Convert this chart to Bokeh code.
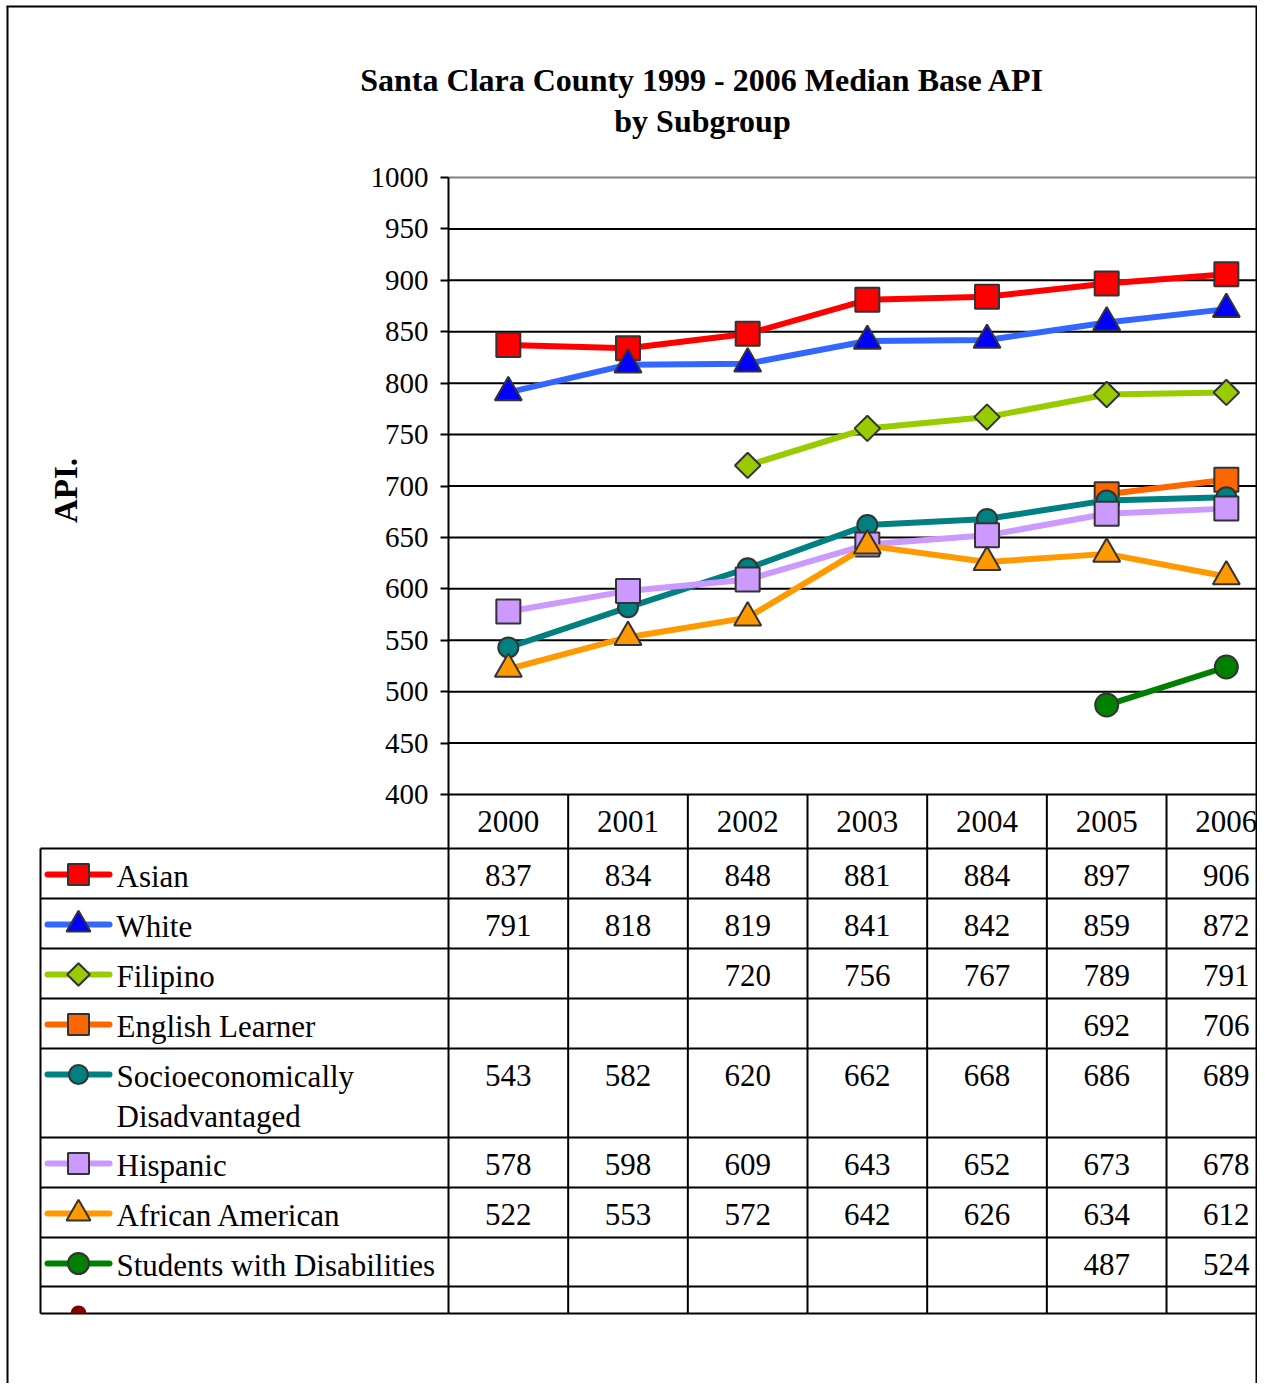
import math
from bokeh.plotting import figure
from bokeh.models import Range1d, LinearAxis, FixedTicker, ColumnDataSource
from bokeh.embed import file_html
from bokeh.resources import INLINE
from bokeh.core.properties import value

# ---------------- data ----------------
years = ["2000", "2001", "2002", "2003", "2004", "2005", "2006"]
asian = [837, 834, 848, 881, 884, 897, 906]
white = [791, 818, 819, 841, 842, 859, 872]
filipino = [None, None, 720, 756, 767, 789, 791]
english_learner = [None, None, None, None, None, 692, 706]
socio_disadv = [543, 582, 620, 662, 668, 686, 689]
hispanic = [578, 598, 609, 643, 652, 673, 678]
african_american = [522, 553, 572, 642, 626, 634, 612]
disabilities = [None, None, None, None, None, 487, 524]
series_names = ["Asian", "White", "Filipino", "English Learner",
                "Socioeconomically Disadvantaged", "Hispanic",
                "African American", "Students with Disabilities"]
series_values = [asian, white, filipino, english_learner, socio_disadv,
                 hispanic, african_american, disabilities]
y_ticks = [400, 450, 500, 550, 600, 650, 700, 750, 800, 850, 900, 950, 1000]
title_lines = ["Santa Clara County 1999 - 2006 Median Base API", "by Subgroup"]
y_label = "API."

# ---------------- styles ----------------
line_colors = ["#FF0000", "#3366FF", "#99CC00", "#FF6600", "#008080",
               "#CC99FF", "#FF9900", "#008000"]
fill_colors = ["#FF0000", "#0000FF", "#99CC00", "#FF6600", "#008080",
               "#CC99FF", "#FF9900", "#008000"]
markers = ["square", "triangle", "square", "square", "circle", "square",
           "triangle", "circle"]
angles = [0, 0, math.pi / 4, 0, 0, 0, 0, 0]
sizes = [24, 27, 18, 24, 20, 24, 27, 23]
key_sizes = [21, 24, 16, 21, 19, 21, 24, 21]
label_lines = [["Asian"], ["White"], ["Filipino"], ["English Learner"],
               ["Socioeconomically", "Disadvantaged"], ["Hispanic"],
               ["African American"], ["Students with Disabilities"]]
FONT = value("Liberation Serif")
OUTLINE = "#333333"

# ---------------- layout (canvas pixels) ----------------
W, H = 1257, 1383
LEFT, TOP = 0, 0
PLOT_L, PLOT_T, PLOT_B = 448, 177, 794
CAT_W = 119.67
ppu = (PLOT_B - PLOT_T) / 600.0
x_start = -0.5 - (PLOT_L - LEFT) / CAT_W
x_end = -0.5 + (LEFT + W - PLOT_L) / CAT_W
y_end = 1000 + (PLOT_T - TOP) / ppu
y_start = 400 - (TOP + H - PLOT_B) / ppu

row_tops = [848, 898, 948, 998, 1048, 1137, 1187, 1237, 1286]
table_bottom = 1313
TABLE_L = 40
TEXT_OFF = 28
KEY_OFF = 26
LINE2 = 40

p = figure(width=W, height=H, x_range=Range1d(x_start, x_end),
           y_range=Range1d(y_start, y_end), x_axis_type=None, y_axis_type=None,
           toolbar_location=None, output_backend="svg", min_border=0,
           outline_line_color=None)
p.extra_x_ranges = {"px": Range1d(LEFT, LEFT + W)}
p.extra_y_ranges = {"px": Range1d(TOP + H, TOP)}

# gridlines
grid_src = ColumnDataSource(dict(
    y=y_ticks,
    x0=[-0.5] * len(y_ticks),
    x1=[x_end] * len(y_ticks),
    c=["black"] * (len(y_ticks) - 1) + ["#808080"],
))
p.segment(x0="x0", x1="x1", y0="y", y1="y", line_color="c", line_width=2,
          source=grid_src)

# y axis at the left edge of the plot area
ax = LinearAxis(fixed_location=-0.5, bounds=(400, 1000),
                ticker=FixedTicker(ticks=y_ticks))
ax.major_tick_out = 8
ax.major_tick_in = 0
ax.minor_tick_out = 0
ax.minor_tick_in = 0
ax.axis_line_width = 2
ax.axis_line_color = "black"
ax.major_tick_line_width = 2
ax.major_tick_line_color = "black"
ax.major_label_text_font = "Liberation Serif"
ax.major_label_text_font_size = "29px"
ax.major_label_text_color = "black"
ax.major_label_standoff = 12
p.add_layout(ax, "left")

# series
xs = list(range(len(years)))
for vals, lc, fc, mk, ang, sz in zip(series_values, line_colors, fill_colors,
                                     markers, angles, sizes):
    v = [float("nan") if a is None else a for a in vals]
    p.line(xs, v, line_color=lc, line_width=6, line_join="round",
           line_cap="round")
    p.scatter(xs, v, marker=mk, size=sz, angle=ang, fill_color=fc,
              line_color=OUTLINE, line_width=2)

# ---------------- data table ----------------
hy = row_tops + [table_bottom]
p.segment(x0=[TABLE_L] * len(hy), x1=[LEFT + W] * len(hy), y0=hy, y1=hy,
          line_color="black", line_width=2, x_range_name="px",
          y_range_name="px")
cb = [-0.5 + k for k in range(len(years))]
p.segment(x0=cb, x1=cb, y0=[PLOT_B] * len(cb), y1=[table_bottom] * len(cb),
          line_color="black", line_width=2, y_range_name="px")
p.segment(x0=[TABLE_L], x1=[TABLE_L], y0=[row_tops[0]], y1=[table_bottom],
          line_color="black", line_width=2, x_range_name="px",
          y_range_name="px")

# header years
p.text(x=xs, y=[PLOT_B + 27] * len(xs), text=years, text_align="center",
       text_baseline="middle", text_font=FONT, text_font_size="31px",
       text_color="black", y_range_name="px")

# values
tx, ty, tt = [], [], []
for r, vals in enumerate(series_values):
    for i, a in enumerate(vals):
        if a is not None:
            tx.append(i)
            ty.append(row_tops[r] + TEXT_OFF - 1)
            tt.append(str(a))
p.text(x=tx, y=ty, text=tt, text_align="center", text_baseline="middle",
       text_font=FONT, text_font_size="31px", text_color="black",
       y_range_name="px")

# legend keys
ky = [row_tops[r] + KEY_OFF for r in range(len(series_names))]
p.segment(x0=[47] * len(ky), x1=[109] * len(ky), y0=ky, y1=ky,
          line_color=line_colors, line_width=6, line_cap="round",
          x_range_name="px", y_range_name="px")
for r in range(len(series_names)):
    p.scatter([78], [ky[r]], marker=markers[r], size=key_sizes[r],
              angle=angles[r], fill_color=fill_colors[r], line_color=OUTLINE,
              line_width=2, x_range_name="px", y_range_name="px")

lx, lyy, lt = [], [], []
for r, lines in enumerate(label_lines):
    for j, t in enumerate(lines):
        lx.append(116)
        lyy.append(row_tops[r] + TEXT_OFF + LINE2 * j)
        lt.append(t)
p.text(x=lx, y=lyy, text=lt, text_align="left", text_baseline="middle",
       text_font=FONT, text_font_size="31px", text_color="black",
       x_range_name="px", y_range_name="px")

# clipped extra key at the bottom
p.wedge(x=[78], y=[table_bottom], radius=8, radius_units="screen",
        start_angle=0, end_angle=math.pi, fill_color="#800000",
        line_color=None, x_range_name="px", y_range_name="px")

# title and axis title
p.text(x=[702, 702], y=[79, 120], text=title_lines, text_align="center",
       text_baseline="middle", text_font=FONT, text_font_size="32px",
       text_font_style="bold", text_color="black", x_range_name="px",
       y_range_name="px")
p.text(x=[65], y=[490], text=[y_label], angle=math.pi / 2,
       text_align="center", text_baseline="middle", text_font=FONT,
       text_font_size="33px", text_font_style="bold", text_color="black",
       x_range_name="px", y_range_name="px")

# outer chart border
p.segment(x0=[7, 6, 1256], x1=[7, 1257, 1256], y0=[6, 6, 6],
          y1=[TOP + H, 6, TOP + H], line_color="black", line_width=2,
          x_range_name="px", y_range_name="px")

open("out.html", "w").write(file_html(p, INLINE))
